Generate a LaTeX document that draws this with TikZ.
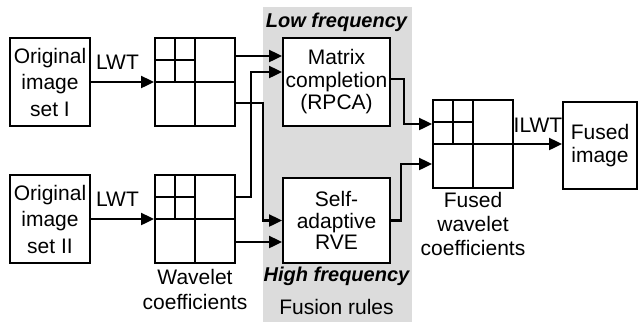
\documentclass[tikz,border=0pt]{standalone}
\usepackage{fontspec}
\setmainfont{Liberation Sans}
\usetikzlibrary{arrows.meta,calc}
\definecolor{bandgray}{RGB}{220,220,220}
\tikzset{
  box/.style={draw, line width=2pt, inner sep=0pt, align=center, fill=white},
  txt/.style={inner sep=0pt, align=center},
  arr/.style={line width=2.4pt, -{Triangle[length=13pt,width=12pt]}},
  gl/.style={line width=2pt},
}
\newcommand\wgrid[1]{%
  \draw[gl] (#1.north) -- (#1.south);
  \draw[gl] (#1.west) -- (#1.east);
  \draw[gl] ($(#1.north west)!0.5!(#1.north)$) -- ($(#1.west)!0.5!(#1.center)$);
  \draw[gl] ($(#1.north west)!0.5!(#1.west)$) -- ($(#1.north)!0.5!(#1.center)$);
}
\begin{document}
\begin{tikzpicture}[x=1pt,y=-1pt]
\useasboundingbox (0,0) rectangle (639,322);
\fill[bandgray] (263,7) rectangle (412,322);

% original images
\node[box, minimum width=80pt, minimum height=88pt, font=\fontsize{21}{26.5}\selectfont] (o1) at (50,82) {Original\\image\\set I};
\node[box, minimum width=80pt, minimum height=88pt, font=\fontsize{21}{26.5}\selectfont] (o2) at (50,219) {Original\\image\\set II};

% wavelet grids
\node[box, minimum width=80pt, minimum height=88pt] (w1) at (195,82) {};
\node[box, minimum width=80pt, minimum height=88pt] (w2) at (195,219) {};
\wgrid{w1}
\wgrid{w2}

% fusion boxes
\node[box, minimum width=107pt, minimum height=88pt, font=\fontsize{21}{22.5}\selectfont] (mc) at (336.5,82) {Matrix\\completion\\(RPCA)};
\node[box, minimum width=107pt, minimum height=85pt, font=\fontsize{21}{21.5}\selectfont] (rve) at (336.5,220.5) {Self-\\adaptive\\RVE};

% fused grid and image
\node[box, minimum width=80pt, minimum height=88pt] (fw) at (473,144) {};
\wgrid{fw}
\node[box, minimum width=74pt, minimum height=87pt, font=\fontsize{21}{23}\selectfont] (fi) at (600,145.5) {Fused\\image};

% labels
\node[txt, font=\fontsize{21}{24}\selectfont] (lwt1) at (117.5,62) {LWT};
\node[txt, font=\fontsize{21}{24}\selectfont] (lwt2) at (117.5,199) {LWT};
\node[txt, font=\fontsize{21}{24}\selectfont] (ilwt) at (538,125) {ILWT};
\node[txt, font=\fontsize{21}{25}\selectfont] (wc) at (195,289.5) {Wavelet\\coefficients};
\node[txt, font=\fontsize{21}{24}\selectfont] (fwc) at (473,224) {Fused\\wavelet\\coefficients};
\node[txt, font=\fontsize{20}{24}\bfseries\itshape] (lf) at (336.5,22) {Low frequency};
\node[txt, font=\fontsize{20}{24}\bfseries\itshape] (hf) at (336.5,276) {High frequency};
\node[txt, font=\fontsize{21}{24}\selectfont] (fr) at (336.5,307) {Fusion rules};

% connectors
\draw[arr] (o1.east) -- (w1.west);
\draw[arr] (o2.east) -- (w2.west);
\draw[arr] ([yshift=26pt]w1.east) -- ([yshift=26pt]mc.west);
\draw[arr] ([yshift=22pt]w2.east) -- ++(15,0) |- ([yshift=10pt]mc.west);
\draw[arr] ([yshift=-21pt]w1.east) -- ++(27,0) |- (rve.west);
\draw[arr] ([yshift=-23pt]w2.east) -- ([yshift=-21.5pt]rve.west);
\draw[arr] ([yshift=3pt]mc.east) -- ++(13,0) |- ([yshift=20pt]fw.west);
\draw[arr] (rve.east) -- ++(10,0) |- ([yshift=-20pt]fw.west);
\draw[arr] (fw.east) -- (fw.east -| fi.west);
\end{tikzpicture}
\end{document}
